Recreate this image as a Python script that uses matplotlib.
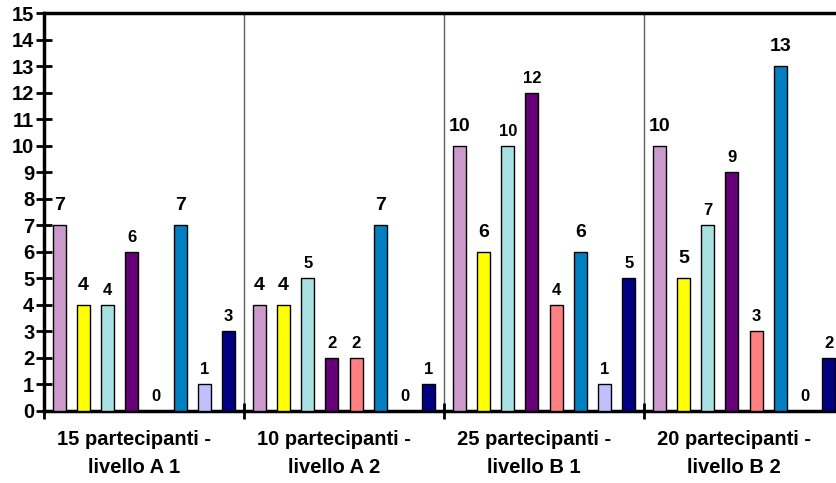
import numpy as np
import matplotlib.pyplot as plt
from matplotlib.transforms import ScaledTranslation

plt.rcParams['font.family'] = ['Liberation Sans', 'DejaVu Sans']
plt.rcParams['font.weight'] = 'bold'

gruppi = ['15 partecipanti -\nlivello A 1', '10 partecipanti -\nlivello A 2',
          '25 partecipanti -\nlivello B 1', '20 partecipanti -\nlivello B 2']

# one list per series, one value per group
s1 = [7, 4, 10, 10]
s2 = [4, 4, 6, 5]
s3 = [4, 5, 10, 7]
s4 = [6, 2, 12, 9]
s5 = [0, 2, 4, 3]
s6 = [7, 7, 6, 13]
s7 = [1, 0, 1, 0]
s8 = [3, 1, 5, 2]

serie = [s1, s2, s3, s4, s5, s6, s7, s8]
colori = ['#CC99CC', '#FFFF00', '#A6E0E0', '#660077',
          '#FF8080', '#0080C0', '#C0C0FF', '#000080']
# series whose value labels are printed larger
grandi = [True, True, False, False, False, True, False, False]

fig = plt.figure(figsize=(8.36, 4.83), dpi=100)
ax = fig.add_axes([44 / 836, 72 / 483, 800 / 836, 398 / 483])

passo = 0.121
larg = 0.065
x0 = np.arange(len(gruppi))
for i, (vals, c, big) in enumerate(zip(serie, colori, grandi)):
    xs = x0 + 0.5 + (i - 3.5) * passo
    ax.bar(xs, vals, width=larg, color=c, edgecolor='black', linewidth=1, zorder=3)
    for x, v in zip(xs, vals):
        ax.annotate(str(v), (x, v), xytext=(0, 10.8 if big else 7.2),
                    textcoords='offset points', ha='center', va='baseline',
                    fontsize=14 if big else 12, fontweight='bold', zorder=4)

ax.set_xlim(0, 4)
ax.set_ylim(0, 15)
ax.set_yticks(range(0, 16))
ax.tick_params(axis='y', labelsize=14.5, width=2, length=12, direction='inout', pad=1)

ax.set_xticks(range(0, 5))
ax.set_xticklabels([])
ax.set_xticks(x0 + 0.5, minor=True)
ax.set_xticklabels(gruppi, minor=True, fontsize=14.5, fontweight='bold', linespacing=1.55)
ax.tick_params(axis='x', which='major', width=2, length=12, direction='inout')
ax.tick_params(axis='x', which='minor', length=0, pad=14)
sposta = ScaledTranslation(-10 / 100, 0, fig.dpi_scale_trans)
for lab in ax.get_xticklabels(minor=True):
    lab.set_transform(lab.get_transform() + sposta)

for g in range(1, 4):
    ax.axvline(g, color='#606060', linewidth=1, zorder=1)

for lato in ['left', 'bottom', 'top']:
    ax.spines[lato].set_linewidth(2.5)
ax.spines['right'].set_visible(False)

plt.savefig('out.png', dpi=100)
